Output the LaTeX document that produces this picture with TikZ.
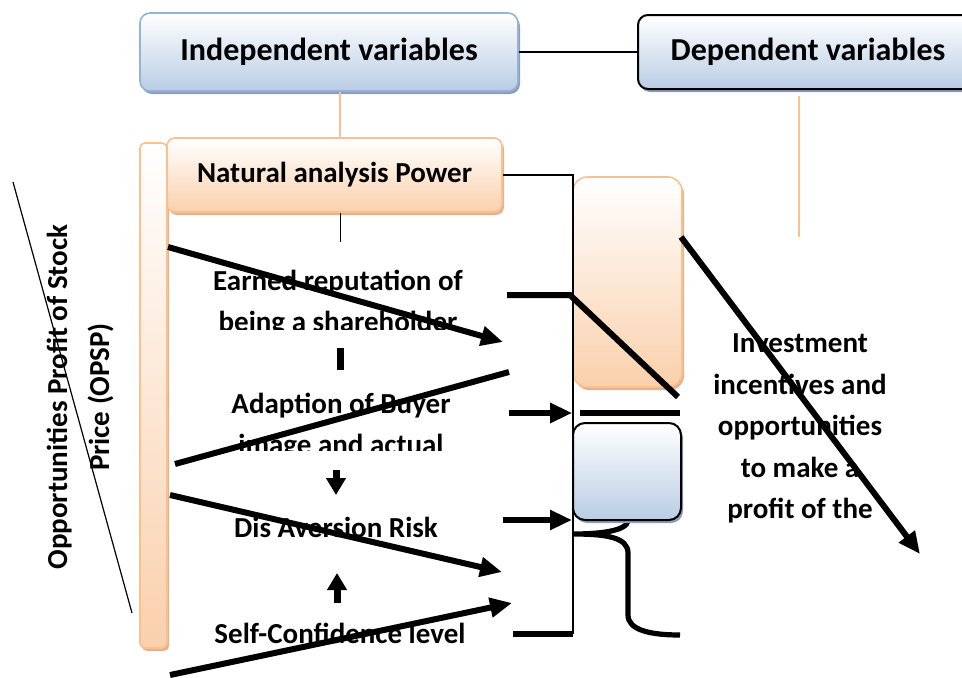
\documentclass[tikz,border=0pt]{standalone}
\usepackage{fontspec}
\setmainfont{Carlito}
\usetikzlibrary{arrows.meta,shadows}

\definecolor{blueB}{RGB}{185,205,229}
\definecolor{blueE}{RGB}{149,179,215}
\definecolor{blueS}{RGB}{141,158,186}
\definecolor{orangeB}{RGB}{250,208,172}
\definecolor{orangeE}{RGB}{250,192,144}
\definecolor{orangeS}{RGB}{226,180,142}

\begin{document}
\begin{tikzpicture}[x=0.5pt,y=0.5pt,
    bluebox/.style={rounded corners=5pt, top color=white, bottom color=blueB, inner sep=0pt,
        drop shadow={shadow xshift=1pt, shadow yshift=-1.5pt, fill=blueS, opacity=1}},
    orangebox/.style={rounded corners=4pt, top color=white, bottom color=orangeB, draw=orangeE,
        line width=0.8pt, inner sep=0pt,
        drop shadow={shadow xshift=1pt, shadow yshift=-1.5pt, fill=orangeS, opacity=1}},
    headtxt/.style={font=\fontsize{16}{19}\selectfont\bfseries},
    txt/.style={align=center, inner sep=0pt, font=\fontsize{14.5}{20.5}\selectfont\bfseries},
    orangeline/.style={draw=orangeE, line width=1pt},
    thinline/.style={line width=0.6pt},
    fatline/.style={line width=3pt},
    fatarrow/.style={line width=3pt, -{Triangle[length=11pt,width=9.5pt]}},
    stubarrow/.style={line width=3.5pt, -{Triangle[length=8.5pt,width=9.5pt]}}]

    \clip (0,0) rectangle (962,677);

    % header boxes
    \node[bluebox, headtxt, draw=blueE, line width=0.8pt, minimum width=189pt, minimum height=39pt] (indep) at (329,625) {Independent variables};
    \node[bluebox, headtxt, draw=black, line width=1pt, minimum width=170pt, minimum height=37pt] (dep) at (808,625) {Dependent variables};
    \draw[line width=1.3pt] (indep.east) -- (dep.west);

    \coordinate (depfoot) at (799,440);
    \draw[orangeline] (depfoot |- dep.south) ++(0,-6) -- (depfoot);

    % left column
    \node[orangebox, rounded corners=2.5pt, minimum width=13.5pt, minimum height=252.5pt] (lbar) at (153.5,281.5) {};
    \node[orangebox, txt, minimum width=167.5pt, minimum height=37pt] (natpow) at (334.5,502) {Natural analysis Power};
    \draw[orangeline] ([xshift=5.5pt]indep.south) -- ([xshift=5.5pt]indep.south |- natpow.north);

    \coordinate (vbot) at (573,43);
    \coordinate (selfend) at (513,43);
    \draw[thinline] (natpow.east) -| (vbot);
    \draw[thinline] ([xshift=3pt]natpow.south) -- ++(0,-29);

    \begin{scope}
        \clip (170,348) rectangle (505,420);
        \node[txt] (earned) at (338,373.5) {Earned reputation of\\being a shareholder};
    \end{scope}
    \begin{scope}
        \clip (170,227) rectangle (505,300);
        \node[txt] (adapt) at (341,250.5) {Adaption of Buyer\\image and actual};
    \end{scope}
    \node[txt] (dis) at (336,150) {Dis Aversion Risk};
    \node[txt] (self) at (340,44) {Self-Confidence level};

    \node[txt, rotate=90, align=center, font=\fontsize{14.5}{21}\selectfont\bfseries] (opsp) at (80,280) {Opportunities Profit of Stock\\Price (OPSP)};
    \draw[thinline] (13,495) -- (132,64);

    % small marks between the factors
    \coordinate (ibt) at (340,329);
    \coordinate (ibb) at (340,307);
    \coordinate (dnt) at (336,207);
    \coordinate (dnb) at (336,182);
    \coordinate (upb) at (337,74);
    \coordinate (upt) at (337,104);
    \draw[line width=3.5pt] (ibt) -- (ibb);
    \draw[stubarrow] (dnt) -- (dnb);
    \draw[stubarrow] (upb) -- (upt);

    % right column
    \draw[line width=2.6pt] (628,156) .. controls (626,146) and (600,143) .. (573,143)
        .. controls (605,143) and (628,140) .. (628,124) -- (628,62)
        .. controls (628,47) and (650,42) .. (680,42);
    \node[orangebox, rounded corners=7pt, minimum width=54.5pt, minimum height=105pt] (rbox) at (627.5,395) {};
    \node[bluebox, draw=black, line width=1pt, rounded corners=6pt, minimum width=54pt, minimum height=48.5pt] (sbox) at (627,205.5) {};
    \draw[thinline] (573,502) -- (vbot);
    \draw[fatline] (vbot) -- (selfend);

    \node[txt, font=\fontsize{14.5}{20.7}\selectfont\bfseries] (invest) at (800,248.5) {Investment\\incentives and\\opportunities\\to make a\\profit of the};

    % long connectors
    \coordinate (a1s) at (168,430);
    \coordinate (a1e) at (503,335);
    \coordinate (a2s) at (175,213);
    \coordinate (a2e) at (509,305);
    \coordinate (a3s) at (170,182);
    \coordinate (a3e) at (502,105);
    \coordinate (a4s) at (170,2);
    \coordinate (a4e) at (512,74);
    \draw[fatarrow] (a1s) -- (a1e);
    \draw[fatline] (a2s) -- (a2e);
    \draw[fatarrow] (a3s) -- (a3e);
    \draw[fatarrow] (a4s) -- (a4e);

    \coordinate (k1) at (507,382);
    \coordinate (k2) at (570,382);
    \coordinate (k3) at (678,280);
    \draw[fatline] (k1) -- (k2) -- (k3);

    \coordinate (r1s) at (509,264);
    \coordinate (r2s) at (503,157);
    \draw[fatarrow] (r1s) -- (r1s -| rbox.west);
    \draw[fatline] (580,264.5) -- (680,264.5);
    \draw[fatarrow] (r2s) -- (r2s -| sbox.west);

    \coordinate (invtip) at (920,123);
    \draw[fatarrow] (681,440) -- (invtip);

\end{tikzpicture}
\end{document}
